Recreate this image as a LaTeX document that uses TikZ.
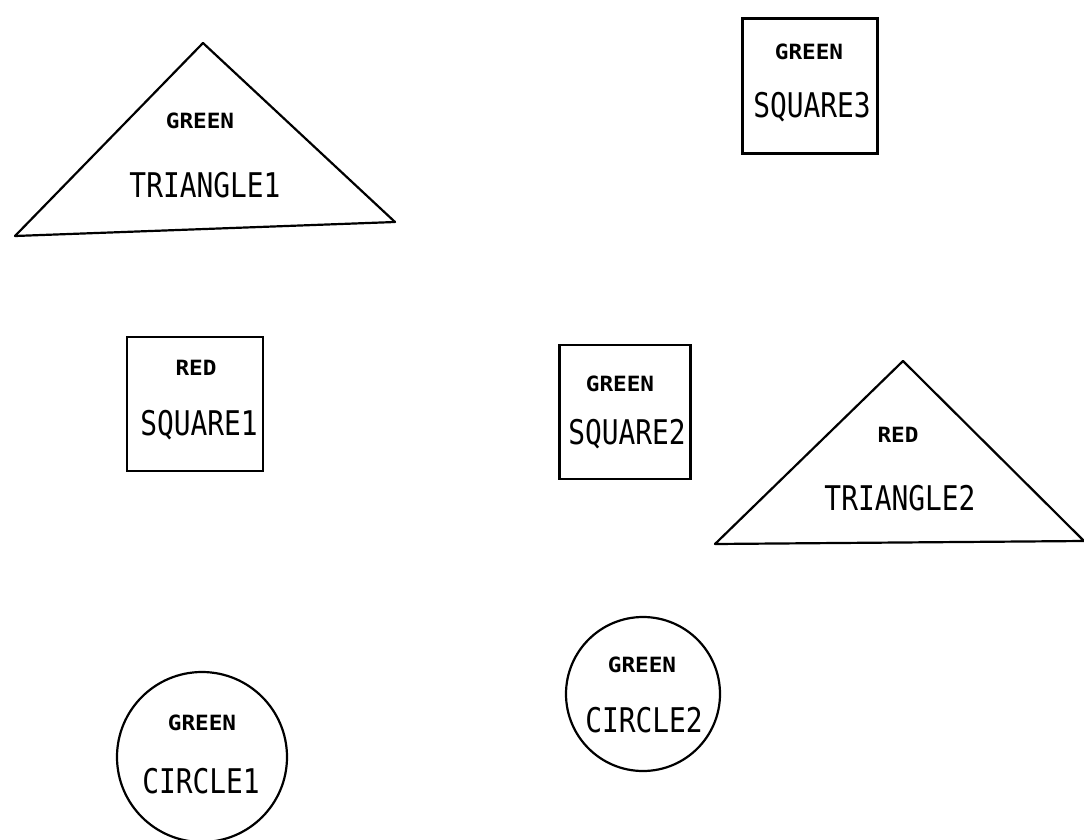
\documentclass[tikz,border=0pt]{standalone}
\usepackage{fontspec}
\newfontfamily\plotfont[FakeStretch=0.82]{DejaVu Sans Mono}
\newfontfamily\tagfont[FakeStretch=1.08]{DejaVu Sans Mono}
\usetikzlibrary{positioning}

\begin{document}
\begin{tikzpicture}[x=1pt,y=-1pt,line width=2.2pt,
  colortag/.style={font=\tagfont\bfseries\fontsize{21}{21}\selectfont,inner sep=0pt},
  nametag/.style={font=\plotfont\fontsize{34}{34}\selectfont,inner sep=0pt},
  box/.style={draw,rectangle,inner sep=0pt},
  ring/.style={draw,circle,inner sep=0pt}]
\useasboundingbox (0,0) rectangle (1084,840);
% triangles
\coordinate (t1a) at (203,43); \coordinate (t1l) at (15,236); \coordinate (t1r) at (395,222);
\draw[line join=round] (t1l) -- (t1a) -- (t1r) -- cycle;
\coordinate (t2a) at (903,361); \coordinate (t2l) at (715,544); \coordinate (t2r) at (1084,541);
\draw[line join=round] (t2l) -- (t2a) -- (t2r) -- cycle;
\node[colortag] (t1c) at (200,121) {GREEN};
\node[nametag] (t1n) at (205,185) {TRIANGLE1};
\node[colortag] (t2c) at (898,435) {RED};
\node[nametag] (t2n) at (900,498) {TRIANGLE2};
% squares
\node[box,minimum width=136pt,minimum height=134pt] (sq1) at (195,404) {};
\node[box,minimum width=131pt,minimum height=134pt] (sq2) at (625,412) {};
\node[box,minimum width=135pt,minimum height=135pt] (sq3) at (810,86) {};
\node[colortag] (sq1c) at (196,368) {RED};
\node[nametag] (sq1n) at (199,425) {SQUARE1};
\node[colortag] (sq2c) at (620,384) {GREEN};
\node[nametag] (sq2n) at (627,434) {SQUARE2};
\node[colortag] (sq3c) at (809,52) {GREEN};
\node[nametag] (sq3n) at (812,107) {SQUARE3};
% circles
\node[ring,minimum size=170pt] (ci1) at (202,757) {};
\node[ring,minimum size=154pt] (ci2) at (643,694) {};
\node[colortag] (ci1c) at (202,723) {GREEN};
\node[nametag] (ci1n) at (201,781) {CIRCLE1};
\node[colortag] (ci2c) at (642,665) {GREEN};
\node[nametag] (ci2n) at (644,720) {CIRCLE2};
\end{tikzpicture}
\end{document}
